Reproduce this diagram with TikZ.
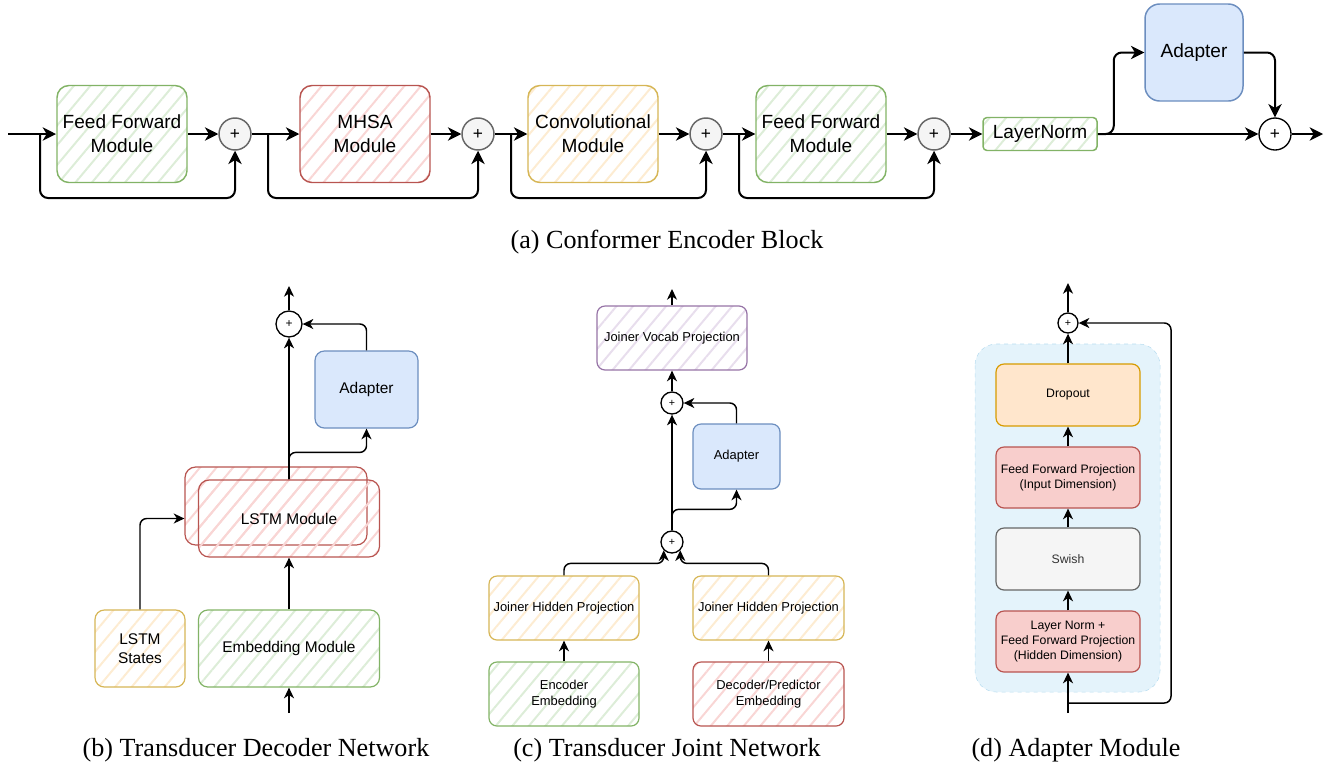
\documentclass[tikz,border=0pt]{standalone}
\usepackage{fontspec}
\setmainfont{Liberation Sans}
\newfontfamily\capfont{Liberation Serif}
\usetikzlibrary{arrows.meta,patterns.meta,calc}
\definecolor{grn}{HTML}{82B366}
\definecolor{grnh}{HTML}{DDEDD8}
\definecolor{rd}{HTML}{B85450}
\definecolor{rdh}{HTML}{F9D6D5}
\definecolor{ylw}{HTML}{D6B656}
\definecolor{ylwh}{HTML}{FDECD2}
\definecolor{prp}{HTML}{9673A6}
\definecolor{prph}{HTML}{E8DEED}
\definecolor{rdf}{HTML}{F8CECC}
\definecolor{blu}{HTML}{6C8EBF}
\definecolor{bluf}{HTML}{DAE8FC}
\definecolor{org}{HTML}{D79B00}
\definecolor{orgf}{HTML}{FFE6CC}
\definecolor{gry}{HTML}{666666}
\definecolor{gryf}{HTML}{F5F5F5}
\definecolor{gryt}{HTML}{333333}
\definecolor{bgf}{HTML}{E4F3FB}
\definecolor{bgd}{HTML}{B9DDF0}
\tikzset{
  hatch/.style={pattern={Lines[angle=50,distance=9.5pt,line width=1.5pt]},pattern color=#1},
  bigbox/.style={draw,rounded corners=9pt,line width=1.1pt,align=center,inner sep=0pt,
    minimum width=97.5pt,minimum height=72.75pt,font=\fontsize{14.3}{18}\selectfont},
  smallbox/.style={draw,rounded corners=7pt,line width=0.9pt,align=center,inner sep=0pt},
  sumgray/.style={circle,draw=gry,fill=gryf,line width=1.1pt,minimum size=24pt,inner sep=0pt,font=\fontsize{13}{13}\selectfont},
  sumwhite/.style={circle,draw,fill=white,line width=1pt,minimum size=#1,inner sep=0pt},
  flowA/.style={-{Stealth[length=10pt,width=10pt,inset=3pt]},line width=1.5pt,rounded corners=6pt},
  flowB/.style={-{Stealth[length=8pt,width=7.5pt,inset=2.4pt]},line width=1.1pt,rounded corners=5pt},
  caption/.style={font=\capfont\fontsize{19.6}{22}\selectfont}
}
\begin{document}
\begin{tikzpicture}[x=0.75pt,y=-0.75pt]
\useasboundingbox (0,0) rectangle (1333,765);
% (a) conformer block
\coordinate (inA) at (8,134);
\coordinate (s1) at (40,134);
\coordinate (s2) at (268,134);
\coordinate (s3) at (511,134);
\coordinate (s4) at (739,134);
\coordinate (outA) at (1323,134);
\node[bigbox,draw=grn,hatch=grnh] (ff1) at (122,134) {Feed Forward\\Module};
\node[bigbox,draw=rd,hatch=rdh] (mhsa) at (365,134) {MHSA\\Module};
\node[bigbox,draw=ylw,hatch=ylwh] (conv) at (593,134) {Convolutional\\Module};
\node[bigbox,draw=grn,hatch=grnh] (ff2) at (821,134) {Feed Forward\\Module};
\node[sumgray] (p1) at (235,134) {+};
\node[sumgray] (p2) at (478,134) {+};
\node[sumgray] (p3) at (706,134) {+};
\node[sumgray] (p4) at (934,134) {+};
\node[bigbox,draw=grn,hatch=grnh,rounded corners=3pt,minimum width=85.5pt,minimum height=24.75pt] (ln) at (1040,134) {LayerNorm};
\node[bigbox,draw=blu,fill=bluf,rounded corners=11pt,minimum width=73.5pt] (adA) at (1194,52.5) {Adapter};
\node[sumwhite=24pt,font=\fontsize{13}{13}\selectfont] (p5) at (1275,134) {+};
\draw[flowA] (inA) -- (ff1);
\draw[flowA] (ff1) -- (p1);
\draw[flowA] (p1) -- (mhsa);
\draw[flowA] (mhsa) -- (p2);
\draw[flowA] (p2) -- (conv);
\draw[flowA] (conv) -- (p3);
\draw[flowA] (p3) -- (ff2);
\draw[flowA] (ff2) -- (p4);
\draw[flowA] (p4) -- (ln);
\draw[flowA] (ln) -- (p5);
\draw[flowA] (p5) -- (outA);
\draw[flowA] (s1) -- ++(0,64) -| (p1);
\draw[flowA] (s2) -- ++(0,64) -| (p2);
\draw[flowA] (s3) -- ++(0,64) -| (p3);
\draw[flowA] (s4) -- ++(0,64) -| (p4);
\draw[flowA] (ln.east) -- ++(16,0) |- (adA);
\draw[flowA] (adA) -| (p5);
\node[caption] at (667,242) {(a) Conformer Encoder Block};
% (b) decoder network
\begin{scope}[font=\fontsize{11.6}{14.3}\selectfont]
\node[smallbox,draw=rd,hatch=rdh,rounded corners=8pt,minimum width=136.5pt,minimum height=58.5pt] (lstmb) at (276,506) {};
\node[smallbox,draw=rd,hatch=rdh,rounded corners=8pt,minimum width=135.75pt,minimum height=57.75pt] (lstmf) at (289,518.5) {LSTM Module};
\node[smallbox,draw=ylw,hatch=ylwh,minimum width=67.5pt,minimum height=57.75pt] (states) at (140,648.5) {LSTM\\States};
\node[smallbox,draw=grn,hatch=grnh,minimum width=135.75pt,minimum height=57.75pt] (emb) at (289,648.5) {Embedding Module};
\node[smallbox,draw=blu,fill=bluf,minimum width=77.25pt,minimum height=57.75pt] (adB) at (366.5,389.5) {Adapter};
\node[sumwhite=19.5pt,font=\fontsize{9}{9}\selectfont] (pb) at (289,324) {+};
\end{scope}
\coordinate (inB) at (289,713);
\coordinate (outB) at (289,286);
\draw[flowB] (inB) -- (emb);
\draw[flowB] (emb) -- (lstmf);
\draw[flowB] (states) |- (lstmb.west |- lstmf);
\draw[flowB] (lstmf.north) -- (pb);
\draw[flowB] (lstmf.north) -- ++(0,-27) -| (adB);
\draw[flowB] (adB) |- (pb);
\draw[flowB] (pb) -- (outB);
\node[caption] at (256,750) {(b) Transducer Decoder Network};
% (c) joint network
\begin{scope}[font=\fontsize{9.7}{12}\selectfont]
\node[smallbox,draw=prp,hatch=prph,rounded corners=6pt,minimum width=112.5pt,minimum height=48pt] (vocab) at (672,338) {Joiner Vocab Projection};
\node[smallbox,draw=blu,fill=bluf,rounded corners=6pt,minimum width=65.25pt,minimum height=48.75pt] (adC) at (736.5,456.5) {Adapter};
\node[smallbox,draw=ylw,hatch=ylwh,rounded corners=6pt,minimum width=112.5pt,minimum height=48pt] (jhpL) at (564,608) {Joiner Hidden Projection};
\node[smallbox,draw=ylw,hatch=ylwh,rounded corners=6pt,minimum width=113.25pt,minimum height=48pt] (jhpR) at (768.5,608) {Joiner Hidden Projection};
\node[smallbox,draw=grn,hatch=grnh,rounded corners=6pt,minimum width=112.5pt,minimum height=48pt] (encE) at (564,694) {Encoder\\Embedding};
\node[smallbox,draw=rd,hatch=rdh,rounded corners=6pt,minimum width=113.25pt,minimum height=48pt] (decE) at (768.5,694) {Decoder/Predictor\\Embedding};
\node[sumwhite=16.5pt,font=\fontsize{8}{8}\selectfont] (pcu) at (672,403) {+};
\node[sumwhite=16.5pt,font=\fontsize{8}{8}\selectfont] (pcl) at (672,542) {+};
\end{scope}
\coordinate (outC) at (672,289);
\draw[flowB] (encE) -- (jhpL);
\draw[flowB] (decE) -- (jhpR);
\draw[flowB] (jhpL.north) -- ++(0,-12) -| (pcl.south west);
\draw[flowB] (jhpR.north) -- ++(0,-12) -| (pcl.south east);
\draw[flowB] (pcl) -- (pcu);
\draw[flowB] (pcl.north) -- ++(0,-21) -| (adC);
\draw[flowB] (adC) |- (pcu);
\draw[flowB] (pcu) -- (vocab);
\draw[flowB] (vocab) -- (outC);
\node[caption] at (667,750) {(c) Transducer Joint Network};
% (d) adapter module
\draw[draw=bgd,fill=bgf,dashed,rounded corners=16pt] (975,344) rectangle (1160,692);
\begin{scope}[font=\fontsize{9.2}{11}\selectfont]
\node[smallbox,draw=org,fill=orgf,rounded corners=6pt,minimum width=108pt,minimum height=46.5pt] (drop) at (1068,395) {Dropout};
\node[smallbox,draw=rd,fill=rdf,rounded corners=6pt,minimum width=108pt,minimum height=45.75pt] (ffpi) at (1068,477.5) {Feed Forward Projection\\(Input Dimension)};
\node[smallbox,draw=gry,fill=gryf,text=gryt,rounded corners=6pt,minimum width=108pt,minimum height=46.5pt] (swish) at (1068,559) {Swish};
\node[smallbox,draw=rd,fill=rdf,rounded corners=6pt,minimum width=108pt,minimum height=45.75pt] (lnd) at (1068,641.5) {Layer Norm +\\Feed Forward Projection\\(Hidden Dimension)};
\node[sumwhite=15pt,font=\fontsize{8}{8}\selectfont] (pd) at (1068,323) {+};
\end{scope}
\coordinate (inD) at (1068,713);
\coordinate (skD) at (1068,703);
\coordinate (outD) at (1068,283);
\draw[flowB] (inD) -- (lnd);
\draw[flowB] (lnd) -- (swish);
\draw[flowB] (swish) -- (ffpi);
\draw[flowB] (ffpi) -- (drop);
\draw[flowB] (drop) -- (pd);
\draw[flowB] (skD) -- ++(103,0) |- (pd);
\draw[flowB] (pd) -- (outD);
\node[caption] at (1076,750) {(d) Adapter Module};
\end{tikzpicture}
\end{document}
